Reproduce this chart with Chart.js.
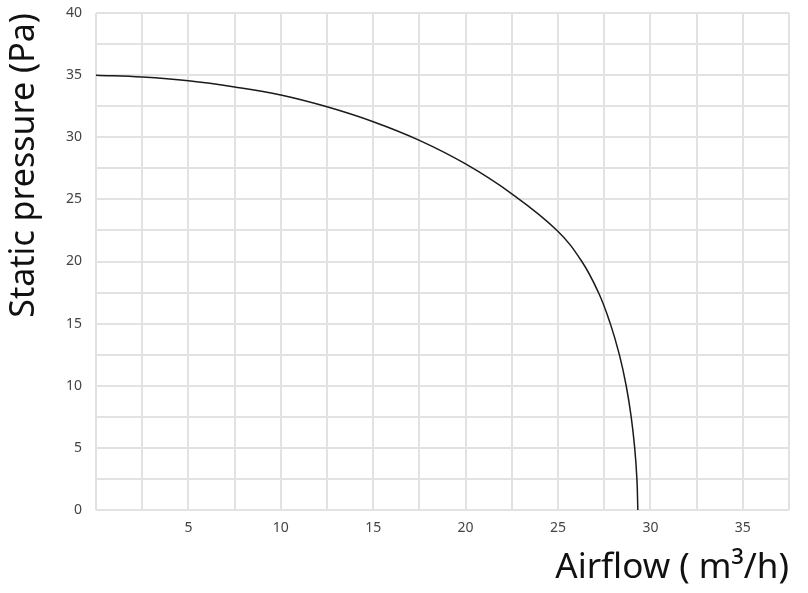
<!DOCTYPE html>
<html><head><meta charset="utf-8">
<script src="https://cdn.jsdelivr.net/npm/chart.js@4/dist/chart.umd.min.js"></script>
<style>html,body{margin:0;padding:0;background:#fff}#wrap{width:808px;height:593px;position:relative}</style>
</head><body><div id="wrap"><canvas id="c" width="808" height="593"></canvas></div>
<script>
// Fan curve data
const airflow  = [0, 2.5, 5, 7.5, 10, 12.5, 15, 17.5, 20, 22.5, 24.95, 26.29, 27.19, 27.83, 28.32, 28.69, 28.96, 29.15, 29.27, 29.32];
const pressure = [35, 34.85, 34.55, 34.05, 33.4, 32.45, 31.25, 29.75, 27.85, 25.45, 22.5, 20, 17.5, 15, 12.5, 10, 7.5, 5, 2.5, 0];
const xTickLabels = [5, 10, 15, 20, 25, 30, 35];
const yTickLabels = [0, 5, 10, 15, 20, 25, 30, 35, 40];
const xTitle = 'Airflow ( m³/h)';
const yTitle = 'Static pressure (Pa)';

const points = airflow.map((x, i) => ({x, y: pressure[i]}));
const gridColor = '#e2e2e2';
const tickFont = {family: "'Noto Sans', 'Open Sans', sans-serif", size: 14};
const xTitleFont = {family: "'Noto Sans', 'Open Sans', sans-serif", size: 35};
const yTitleFont = {family: "'Noto Sans', 'Open Sans', sans-serif", size: 34};

new Chart(document.getElementById('c'), {
  type: 'scatter',
  data: {datasets: [{
    data: points,
    showLine: true,
    borderColor: '#1a1a1a',
    borderWidth: 1.5,
    pointRadius: 0,
    tension: 0.4,
    fill: false
  }]},
  options: {
    responsive: false,
    animation: false,
    layout: {padding: {top: 13, right: 19, left: 0, bottom: 0}},
    plugins: {legend: {display: false}, tooltip: {enabled: false}},
    scales: {
      x: {
        type: 'linear', min: 0, max: 37.5,
        afterFit: s => { s.height = 83; s.paddingLeft = 0; s.paddingRight = 0; },
        grid: {color: gridColor, lineWidth: 2, drawTicks: false},
        border: {display: false},
        ticks: {
          stepSize: 2.5, padding: 10, color: '#444', font: tickFont, maxRotation: 0, autoSkip: false,
          callback: v => xTickLabels.includes(v) ? String(v) : ''
        },
        title: {display: true, text: xTitle, align: 'end', color: '#111', font: xTitleFont, padding: {top: 0, bottom: 4}}
      },
      y: {
        type: 'linear', min: 0, max: 40,
        afterFit: s => { s.width = 96; s.paddingTop = 0; s.paddingBottom = 0; },
        grid: {color: gridColor, lineWidth: 2, drawTicks: false},
        border: {display: false},
        ticks: {
          stepSize: 2.5, padding: 14, color: '#444', font: tickFont, autoSkip: false,
          callback: v => yTickLabels.includes(v) ? String(v) : ''
        },
        title: {display: true, text: yTitle, align: 'end', color: '#111', font: yTitleFont, padding: {top: 4, bottom: 0}}
      }
    }
  }
});
</script></body></html>
